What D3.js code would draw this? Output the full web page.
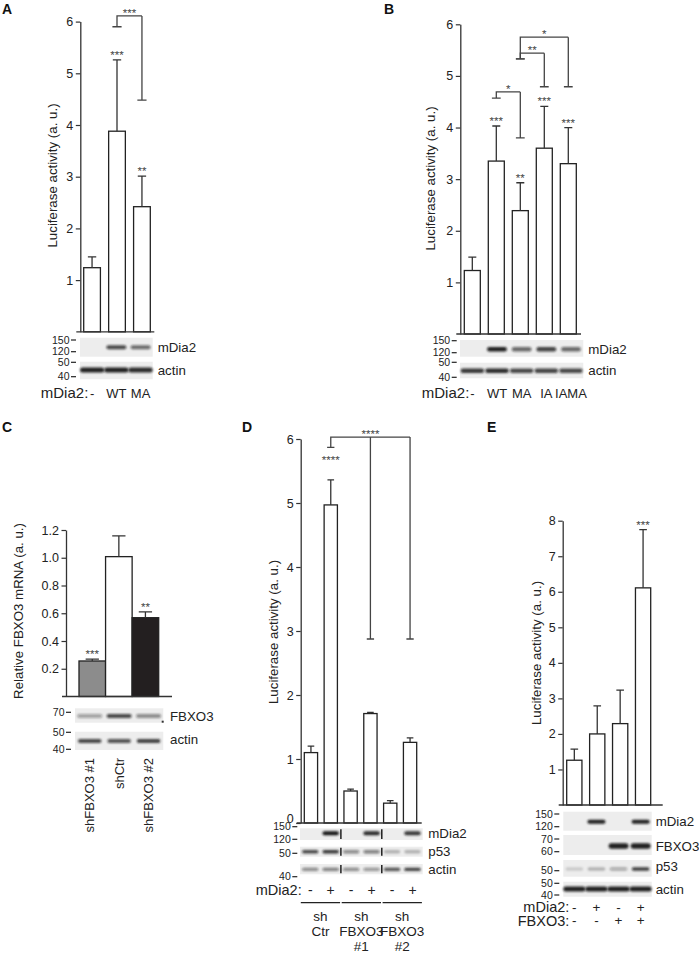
<!DOCTYPE html>
<html><head><meta charset="utf-8">
<script src="https://cdn.jsdelivr.net/npm/d3@7"></script>
<style>
body{margin:0;background:#fff}
svg{display:block}
text{font-family:"Liberation Sans",Arial,Helvetica,sans-serif;fill:#222}
</style>
</head><body>
<svg id="c" width="699" height="959"></svg>
<script>
// ---------------- DATA ----------------
// Panel A
const catsA = ["-", "WT", "MA"];
const valsA = [1.24, 3.88, 2.42];
const errA  = [1.45, 5.26, 3.01];
const starsA = ["", "***", "**"];
const ticksA = [1, 2, 3, 4, 5, 6];
const bracketsA = [{from: 1, to: [2], left: 5.90, top: 6.11, right: [4.48], label: "***"}];
const proteinsA = ["mDia2", "actin"];
const bandsA = [[0, 0.75, 0.6], [0.95, 0.95, 0.9]];
const markersA = ["150", "120", "50", "40"];

// Panel B
const catsB = ["-", "WT", "MA", "IA", "IAMA"];
const valsB = [1.23, 3.35, 2.39, 3.60, 3.30];
const errB  = [1.49, 4.03, 2.93, 4.41, 4.00];
const starsB = ["", "***", "**", "***", "***"];
const ticksB = [1, 2, 3, 4, 5, 6];
const bracketsB = [
  {from: 1, to: [2], left: 4.57, top: 4.69, right: [3.80], label: "*"},
  {from: 2, to: [3], left: 5.33, top: 5.44, right: [4.79], label: "**"},
  {from: 2, to: [4], left: 5.33, top: 5.75, right: [4.79], label: "*"}
];
const proteinsB = ["mDia2", "actin"];
const bandsB = [[0, 0.95, 0.6, 0.8, 0.6], [0.85, 0.9, 0.75, 0.8, 0.75]];
const markersB = ["150", "120", "50", "40"];

// Panel C
const catsC = ["shFBXO3 #1", "shCtr", "shFBXO3 #2"];
const valsC = [0.256, 1.008, 0.568];
const errC  = [0.27, 1.157, 0.61];
const starsC = ["***", "", "**"];
const ticksC = [0.2, 0.4, 0.6, 0.8, 1.0, 1.2];
const fillsC = ["#8c8c8c", "#ffffff", "#231f20"];
const proteinsC = ["FBXO3", "actin"];
const bandsC = [[0.35, 0.75, 0.45], [0.75, 0.7, 0.8]];
const markersC = ["70", "50", "40"];

// Panel D
const catsD = ["Ctr-", "Ctr+", "F1-", "F1+", "F2-", "F2+"];
const valsD = [1.10, 4.97, 0.50, 1.71, 0.31, 1.26];
const errD  = [1.20, 5.36, 0.53, 1.73, 0.35, 1.33];
const starsD = ["", "****", "", "", "", ""];
const starValD = [null, 5.71, null, null, null, null];
const ticksD = [0, 1, 2, 3, 4, 5, 6];
const bracketsD = [{from: 1, to: [3, 5], left: 5.87, top: 6.03, right: [2.875, 2.875], label: "****"}];
const proteinsD = ["mDia2", "p53", "actin"];
const bandsD = [[0, 1, 0, 0.9, 0, 0.85], [0.75, 0.85, 0.45, 0.5, 0.25, 0.25], [0.45, 0.5, 0.45, 0.4, 0.7, 0.8]];
const markersD = ["150", "120", "50", "40"];
const signsD = ["-", "+", "-", "+", "-", "+"];
const groupsD = [["sh", "Ctr"], ["sh", "FBXO3", "#1"], ["sh", "FBXO3", "#2"]];

// Panel E
const catsE = ["--", "+-", "-+", "++"];
const valsE = [1.26, 2.00, 2.29, 6.11];
const errE  = [1.57, 2.79, 3.23, 7.75];
const starsE = ["", "", "", "***"];
const ticksE = [1, 2, 3, 4, 5, 6, 7, 8];
const proteinsE = ["mDia2", "FBXO3", "p53", "actin"];
const bandsE = [[0, 0.95, 0, 0.95], [0, 0, 0.95, 0.95], [0.15, 0.25, 0.3, 0.8], [0.95, 0.95, 0.95, 0.95]];
const markersE = ["150", "120", "70", "60", "50", "50", "40"];
const signsE1 = ["-", "+", "-", "+"];
const signsE2 = ["-", "-", "+", "+"];

// ---------------- DRAWING ----------------
const svg = d3.select("#c");
svg.append("rect").attr("width", 699).attr("height", 959).attr("fill", "#fff");
const defs = svg.append("defs");
defs.append("filter").attr("id", "blur").attr("x", "-30%").attr("y", "-150%").attr("width", "160%").attr("height", "400%")
  .append("feGaussianBlur").attr("stdDeviation", 0.9);

const INK = "#222";
const LINE = "#333";

function txt(g, x, y, s, size, anchor) {
  return g.append("text").attr("x", x).attr("y", y).attr("dy", "0.35em")
    .attr("font-size", size).attr("text-anchor", anchor || "start").text(s);
}

function chart(c) {
  const g = svg.append("g");
  const y = d3.scaleLinear().domain([0, c.topVal]).range([c.zero, c.top]);
  const x = d3.scaleBand().domain(c.cats).range([c.x0, c.x1]).paddingInner(c.pi).paddingOuter(0);
  const bw = x.bandwidth();
  const cx = i => x(c.cats[i]) + bw / 2;
  const cw = bw * 0.5;

  g.selectAll("rect.bar").data(c.vals).join("rect").attr("class", "bar")
    .attr("x", (d, i) => x(c.cats[i])).attr("y", d => y(d))
    .attr("width", bw).attr("height", d => y(0) - y(d))
    .attr("fill", (d, i) => c.fills ? c.fills[i] : "#fff")
    .attr("stroke", INK).attr("stroke-width", 1.3);

  c.errs.forEach((e, i) => {
    g.append("path")
      .attr("d", `M${cx(i)},${y(c.vals[i])}V${y(e)}M${cx(i) - cw / 2},${y(e)}H${cx(i) + cw / 2}`)
      .attr("stroke", "#333").attr("stroke-width", 1.3).attr("fill", "none");
  });

  c.stars.forEach((s, i) => {
    if (!s) return;
    const yc = (c.starVals && c.starVals[i] != null) ? y(c.starVals[i]) : y(c.errs[i]) - 7.5;
    g.append("text").attr("x", cx(i)).attr("y", yc + 6.6).attr("text-anchor", "middle")
      .attr("font-size", 11.5).style("fill", "#444").text(s);
  });

  (c.brackets || []).forEach(b => {
    const xl = cx(b.from);
    const xr = b.to.map(cx);
    const bc = bw * 0.55;
    let d = `M${xl - bc / 2},${y(b.left)}H${xl + bc / 2}M${xl},${y(b.left)}V${y(b.top)}H${xr[xr.length - 1]}`;
    xr.forEach((xx, k) => {
      d += `M${xx},${y(b.top)}V${y(b.right[k])}M${xx - bc / 2},${y(b.right[k])}H${xx + bc / 2}`;
    });
    g.append("path").attr("d", d).attr("stroke", "#444").attr("stroke-width", 1.3).attr("fill", "none");
    const mx = (xl + xr[xr.length - 1]) / 2;
    g.append("text").attr("x", mx).attr("y", y(b.top) - 5.7 + 6.6).attr("text-anchor", "middle")
      .attr("font-size", 11.5).style("fill", "#444").text(b.label);
  });

  const ax = g.append("g").attr("transform", `translate(${c.axisX},0)`)
    .call(d3.axisLeft(y).tickValues(c.ticks).tickFormat(c.fmt || d3.format("d"))
      .tickSize(4.5).tickSizeOuter(0).tickPadding(2.5));
  ax.attr("font-family", null).attr("font-size", null);
  ax.select(".domain").attr("stroke", LINE).attr("stroke-width", 1.3);
  ax.selectAll(".tick line").attr("stroke", LINE).attr("stroke-width", 1.2);
  ax.selectAll(".tick text").attr("font-size", 12.5).style("fill", INK)
    .attr("dy", d => d === 0 ? "-0.05em" : "0.32em");

  g.append("line").attr("x1", c.axisX - 4).attr("x2", c.baseEnd)
    .attr("y1", y(0)).attr("y2", y(0)).attr("stroke", LINE).attr("stroke-width", 1.3);

  g.append("text").attr("transform", `translate(${c.labelX},${c.labelY}) rotate(-90)`)
    .attr("text-anchor", "middle").attr("dy", "0.35em").attr("font-size", 13.3).text(c.label);
  return {x, y};
}

function blot(b) {
  const g = svg.append("g");
  const lanes = d3.range(b.bands[0].length);
  const lx = d3.scaleBand().domain(lanes).range([b.x0, b.x1]);
  const st = lx.step();
  b.rows.forEach((r, k) => {
    g.append("rect").attr("x", b.x0).attr("y", r.y0).attr("width", b.x1 - b.x0).attr("height", r.y1 - r.y0)
      .attr("fill", "#ededed");
    g.selectAll(null).data(b.bands[k]).join("rect")
      .attr("x", (d, i) => lx(i) + st * (1 - r.w) / 2).attr("width", st * r.w)
      .attr("y", r.by - r.h / 2).attr("height", r.h).attr("rx", r.h / 2)
      .attr("fill", "#151515").attr("fill-opacity", d => d).attr("filter", "url(#blur)");
    (b.seps || []).forEach(si => {
      g.append("line").attr("x1", lx(si)).attr("x2", lx(si)).attr("y1", r.y0 + 1).attr("y2", r.y1 - 1)
        .attr("stroke", "#111").attr("stroke-width", 1.4);
    });
    txt(g, b.labelX, r.ly != null ? r.ly : r.by, b.proteins[k], 13.3, "start");
  });
  b.markers.forEach((m, i) => {
    const yy = b.markerY[i];
    txt(g, b.markerX - 6.5, yy, m, 10.5, "end");
    g.append("line").attr("x1", b.markerX - 5).attr("x2", b.markerX).attr("y1", yy).attr("y2", yy)
      .attr("stroke", INK).attr("stroke-width", 1.2);
  });
  return lx;
}

function laneRow(g, lx, labels, y, title, titleX, titleSize, size) {
  if (title) txt(g, titleX, y, title, titleSize, "end");
  labels.forEach((s, i) => txt(g, lx(i) + lx.bandwidth() / 2, y, s, size, "middle"));
}

// Panel letters
[["A", 2, 14], ["B", 384, 14], ["C", 2, 432], ["D", 242, 432], ["E", 487, 432]].forEach(([s, x, y]) => {
  svg.append("text").attr("x", x).attr("y", y).attr("font-size", 14).attr("font-weight", "bold").style("fill", "#111").text(s);
});

// ---- A ----
chart({cats: catsA, vals: valsA, errs: errA, stars: starsA, ticks: ticksA, brackets: bracketsA,
  x0: 83.7, x1: 150.3, pi: 0.33, zero: 331.8, top: 21.6, topVal: 6, axisX: 80.3, baseEnd: 154.3,
  label: "Luciferase activity (a. u.)", labelX: 52, labelY: 175.5});
const lxA = blot({x0: 80, x1: 152.7, bands: bandsA, proteins: proteinsA, labelX: 157.7,
  rows: [{y0: 337.7, y1: 356.7, by: 347.3, h: 4, w: 0.82}, {y0: 361.7, y1: 379.3, by: 370, h: 5, w: 1.0}],
  markers: markersA, markerY: [340, 351.7, 362.3, 376.7], markerX: 76});
laneRow(svg, lxA, catsA, 393, "mDia2:", 88.3, 15, 13);

// ---- B ----
chart({cats: catsB, vals: valsB, errs: errB, stars: starsB, ticks: ticksB, brackets: bracketsB,
  x0: 464.3, x1: 576.3, pi: 0.333, zero: 334, top: 24.3, topVal: 6, axisX: 460.3, baseEnd: 581,
  label: "Luciferase activity (a. u.)", labelX: 430, labelY: 178.5});
const lxB = blot({x0: 460, x1: 583.3, bands: bandsB, proteins: proteinsB, labelX: 588.3,
  rows: [{y0: 340, y1: 356.7, by: 349.3, h: 4.5, w: 0.8}, {y0: 362.7, y1: 378.3, by: 370.7, h: 4.5, w: 0.95}],
  markers: markersB, markerY: [340.7, 352.7, 362.3, 377.3], markerX: 456.7});
laneRow(svg, lxB, catsB, 393, "mDia2:", 469.3, 15, 13);

// ---- C ----
chart({cats: catsC, vals: valsC, errs: errC, stars: starsC, ticks: ticksC, fills: fillsC, fmt: d3.format(".1f"),
  x0: 79, x1: 158.7, pi: 0, zero: 696.5, top: 530, topVal: 1.2, axisX: 66, baseEnd: 172,
  label: "Relative FBXO3 mRNA (a. u.)", labelX: 18, labelY: 611});
const lxC = blot({x0: 75, x1: 163.3, bands: bandsC, proteins: proteinsC, labelX: 170,
  rows: [{y0: 708.3, y1: 722.7, by: 716, h: 4, w: 0.85}, {y0: 731.7, y1: 750, by: 741, ly: 739, h: 4, w: 0.8}],
  markers: markersC, markerY: [712.3, 732.3, 749.3], markerX: 71});
svg.append("rect").attr("x", 161.7).attr("y", 720.7).attr("width", 2).attr("height", 2).attr("fill", "#333");
catsC.forEach((s, i) => {
  svg.append("text").attr("transform", `translate(${lxC(i) + lxC.bandwidth() / 2},758) rotate(-90)`)
    .attr("text-anchor", "end").attr("dy", "0.35em").attr("font-size", 13).text(s);
});

// ---- D ----
chart({cats: catsD, vals: valsD, errs: errD, stars: starsD, starVals: starValD, ticks: ticksD, brackets: bracketsD,
  x0: 304.3, x1: 416.7, pi: 0.33, zero: 823, top: 439, topVal: 6, axisX: 300.7, baseEnd: 421.7,
  label: "Luciferase activity (a. u.)", labelX: 273.3, labelY: 632});
const lxD = blot({x0: 300, x1: 422.7, bands: bandsD, proteins: proteinsD, labelX: 428.3, seps: [2, 4],
  rows: [{y0: 828.3, y1: 840, by: 833.3, h: 4, w: 0.8}, {y0: 846.7, y1: 856.7, by: 851.7, h: 3.5, w: 0.8},
         {y0: 864, y1: 874.3, by: 869.3, h: 3.2, w: 0.8}],
  markers: markersD, markerY: [826.7, 839.3, 853.3, 876.7], markerX: 297.3});
laneRow(svg, lxD, signsD, 890, "mDia2:", 301.7, 14.5, 14);
groupsD.forEach((grp, k) => {
  const a = lxD(2 * k), b2 = lxD(2 * k + 1) + lxD.bandwidth();
  svg.append("line").attr("x1", a + 0.8).attr("x2", b2 - 0.8).attr("y1", 902.7).attr("y2", 902.7)
    .attr("stroke", INK).attr("stroke-width", 1.2);
  grp.forEach((s, j) => txt(svg, (a + b2) / 2, 916.7 + 15 * j, s, 13.5, "middle"));
});

// ---- E ----
chart({cats: catsE, vals: valsE, errs: errE, stars: starsE, ticks: ticksE,
  x0: 566.7, x1: 650.7, pi: 0.335, zero: 805, top: 520.7, topVal: 8, axisX: 562.7, baseEnd: 662.7,
  label: "Luciferase activity (a. u.)", labelX: 536.7, labelY: 653});
const lxE = blot({x0: 563.3, x1: 651.7, bands: bandsE, proteins: proteinsE, labelX: 655.7,
  rows: [{y0: 811.7, y1: 830.7, by: 821.7, h: 4, w: 0.82}, {y0: 835, y1: 855, by: 846, h: 5.5, w: 0.9},
         {y0: 860, y1: 876.7, by: 869, ly: 866, h: 3.5, w: 0.8}, {y0: 881.7, y1: 896.7, by: 889, h: 5, w: 1.0}],
  markers: markersE, markerY: [814, 826.7, 839, 851.7, 870.7, 883.3, 895], markerX: 559.3});
laneRow(svg, lxE, signsE1, 907.3, "mDia2:", 569.3, 14.5, 13.5);
laneRow(svg, lxE, signsE2, 920.7, "FBXO3:", 569.3, 14.5, 13.5);
</script>
</body></html>
